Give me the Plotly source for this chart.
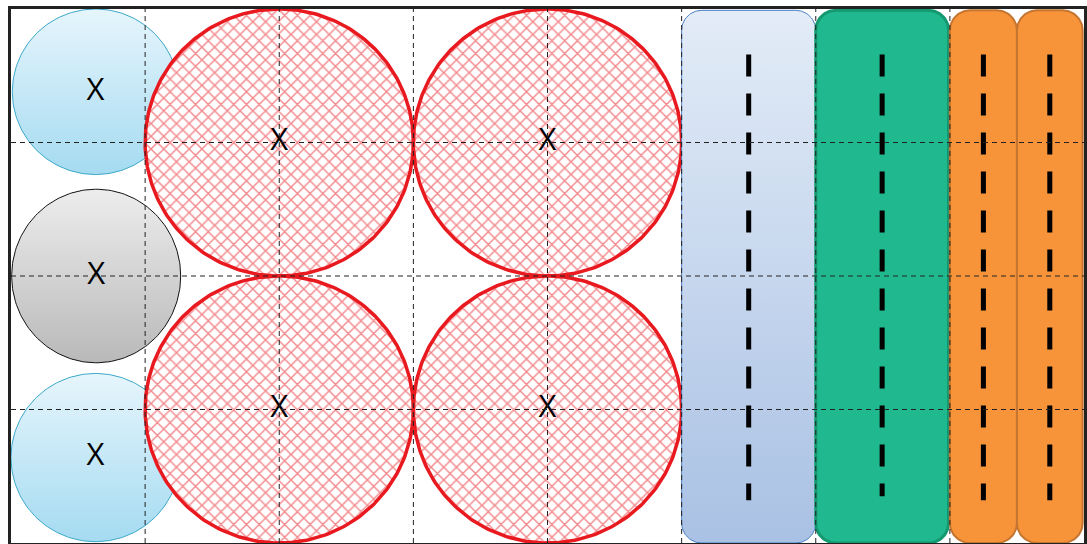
import numpy as np
import plotly.graph_objects as go

# circles (data units: plot spans 0..8 by 0..4)
blue_cx = [0.63, 0.63]
blue_cy = [3.38, 0.64]
blue_r = [0.62, 0.63]

grey_cx = [0.635]
grey_cy = [2.0]
grey_rx = [0.63]
grey_ry = [0.65]

red_cx = [2, 4, 2, 4]
red_cy = [3, 3, 1, 1]
red_r = [1.0, 1.0, 1.0, 1.0]

# rounded columns
col_x0 = [5.0, 6.0, 7.0, 7.5]
col_x1 = [6.0, 6.99, 7.5, 7.99]
col_y0 = [0.0, 0.0, 0.0, 0.0]
col_y1 = [3.99, 3.99, 3.99, 3.99]
col_top_fill = ['#e3ecf7', '#20b98f', '#f7943a', '#f7943a']
col_bot_fill = ['#a9c1e4', '#20b98f', '#f7943a', '#f7943a']
col_edge = ['#4a7ec4', '#149870', '#c47530', '#c47530']
col_edge_w = [1, 3, 2, 2]

# dashed marks inside columns
dash_top = [3.66, 3.66, 3.66, 3.66]
dash_bottom = [0.32, 0.35, 0.32, 0.32]

grid_x = [1, 2, 3, 4, 5, 6, 7]
grid_y = [1, 2, 3]


def ellipse(cx, cy, rx, ry, n=200):
    t = np.linspace(0, 2 * np.pi, n)
    return cx + rx * np.cos(t), cy + ry * np.sin(t)


def rounded_rect(x0, x1, y0, y1, r=0.15, n=20):
    xs, ys = [], []
    corners = [(x1 - r, y1 - r, 0), (x0 + r, y1 - r, 90),
               (x0 + r, y0 + r, 180), (x1 - r, y0 + r, 270)]
    for cx, cy, a0 in corners:
        t = np.radians(np.linspace(a0, a0 + 90, n))
        xs += list(cx + r * np.cos(t))
        ys += list(cy + r * np.sin(t))
    xs.append(xs[0])
    ys.append(ys[0])
    return xs, ys


fig = go.Figure()

for cx, cy, r in zip(blue_cx, blue_cy, blue_r):
    x, y = ellipse(cx, cy, r, r)
    fig.add_trace(go.Scatter(x=x, y=y, mode='lines', fill='toself',
                             line=dict(color='#3aa8c8', width=1),
                             fillgradient=dict(type='vertical',
                                               colorscale=[[0, '#a5dbf1'], [1, '#e6f5fc']]),
                             showlegend=False, hoverinfo='skip'))

for cx, cy, rx, ry in zip(grey_cx, grey_cy, grey_rx, grey_ry):
    x, y = ellipse(cx, cy, rx, ry)
    fig.add_trace(go.Scatter(x=x, y=y, mode='lines', fill='toself',
                             line=dict(color='#111111', width=1),
                             fillgradient=dict(type='vertical',
                                               colorscale=[[0, '#b9b9b9'], [1, '#ededed']]),
                             showlegend=False, hoverinfo='skip'))

for cx, cy, r in zip(red_cx, red_cy, red_r):
    x, y = ellipse(cx, cy, r, r, n=300)
    fig.add_trace(go.Scatter(x=x, y=y, mode='lines', fill='toself',
                             fillcolor='white',
                             fillpattern=dict(shape='x', fgcolor='#e8141b', bgcolor='white',
                                              size=9, solidity=0.3),
                             line=dict(color='#e8191f', width=3.5),
                             showlegend=False, hoverinfo='skip'))

for i in range(len(col_x0)):
    x, y = rounded_rect(col_x0[i], col_x1[i], col_y0[i], col_y1[i])
    fig.add_trace(go.Scatter(x=x, y=y, mode='lines', fill='toself',
                             line=dict(color=col_edge[i], width=col_edge_w[i]),
                             fillgradient=dict(type='vertical',
                                               colorscale=[[0, col_bot_fill[i]], [1, col_top_fill[i]]]),
                             showlegend=False, hoverinfo='skip'))
    xm = (col_x0[i] + col_x1[i]) / 2
    fig.add_trace(go.Scatter(x=[xm, xm], y=[dash_top[i], dash_bottom[i]], mode='lines',
                             line=dict(color='black', width=5, dash='22px,17px'),
                             showlegend=False, hoverinfo='skip'))

# X labels at circle centres
lx = blue_cx + grey_cx + red_cx
ly = blue_cy + grey_cy + red_cy
fig.add_trace(go.Scatter(x=lx, y=ly, mode='text', text=['X'] * len(lx),
                         textfont=dict(family='Open Sans', size=31, color='black'),
                         showlegend=False, hoverinfo='skip'))

# dashed grid drawn above the shapes
for gx in grid_x:
    fig.add_shape(type='line', x0=gx, x1=gx, y0=0, y1=4, layer='above',
                  line=dict(color='#222222', width=1, dash='5px,4px'))
for gy in grid_y:
    fig.add_shape(type='line', x0=0, x1=8, y0=gy, y1=gy, layer='above',
                  line=dict(color='#222222', width=1, dash='5px,4px'))

axis = dict(showgrid=False, zeroline=False, showticklabels=False, ticks='',
            showline=True, mirror=True, linecolor='#222222', linewidth=3,
            layer='above traces', fixedrange=True)
fig.update_xaxes(range=[0, 8], **axis)
fig.update_yaxes(range=[0, 4], **axis)
fig.update_layout(width=1087, height=544,
                  margin=dict(l=11, r=3, t=9, b=1),
                  plot_bgcolor='white', paper_bgcolor='white')

# drop the browser's default page margin so the figure sits at the window origin
fig.write_html("out.html", config={'displayModeBar': False},
               post_script="document.body.style.margin='0';")
